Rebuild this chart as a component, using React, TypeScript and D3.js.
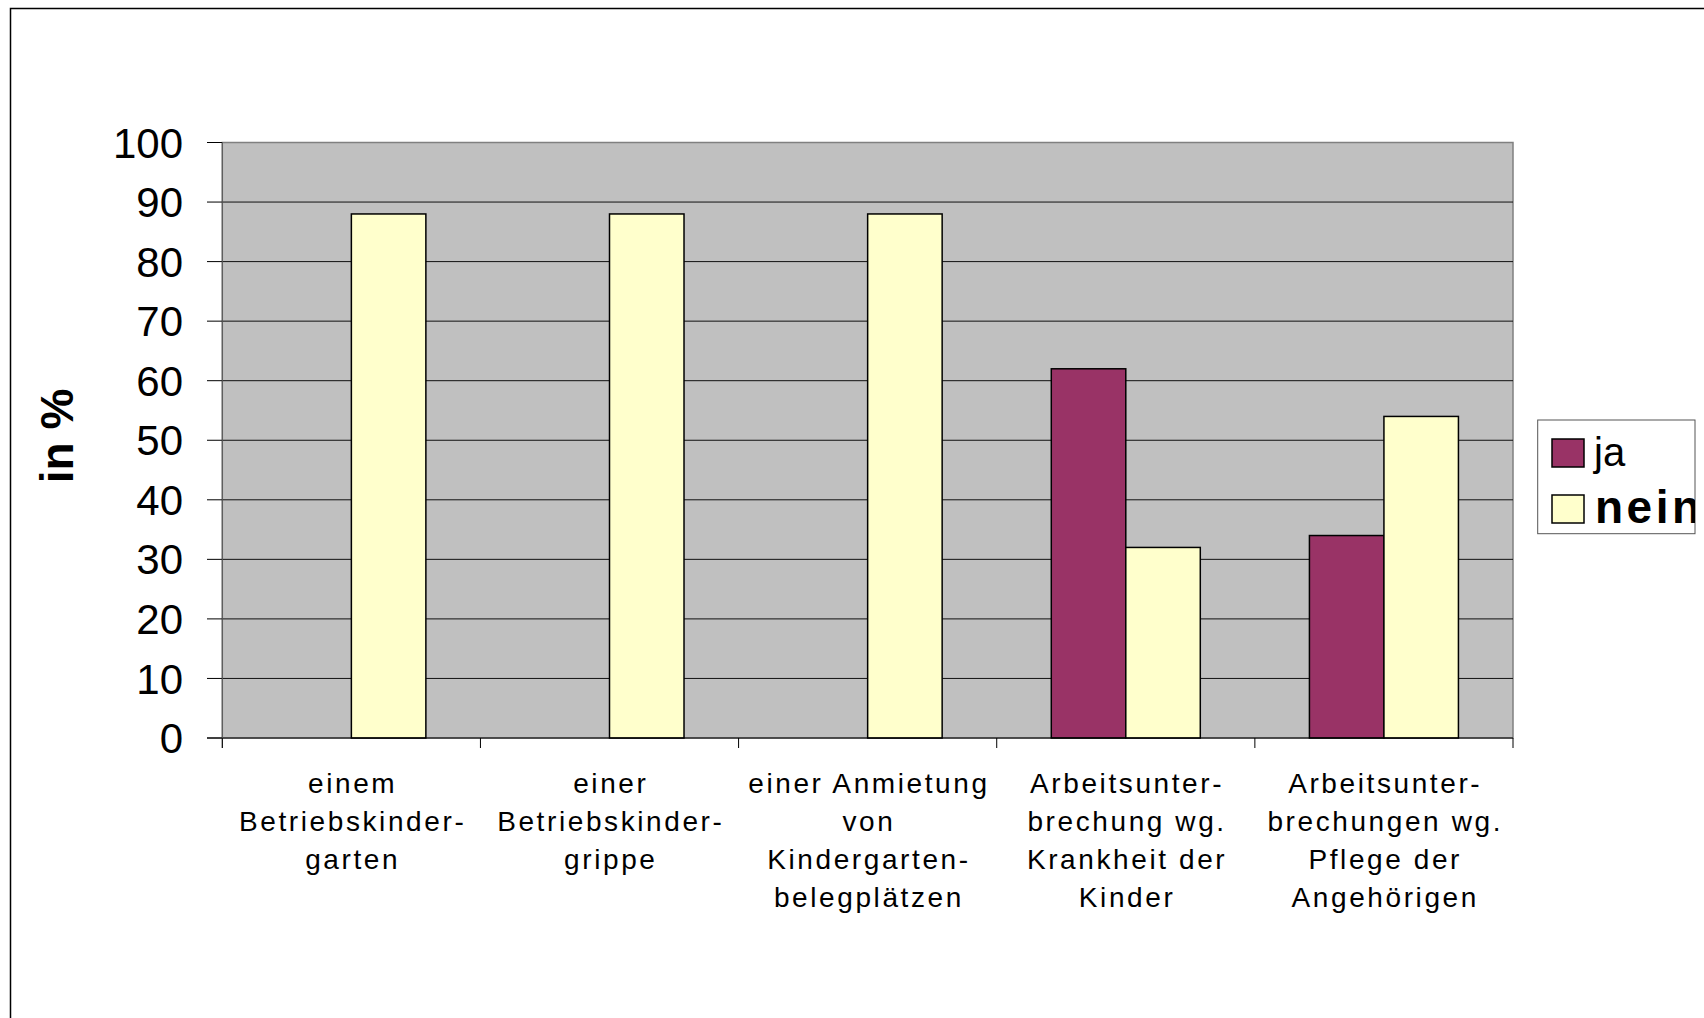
import React from 'react';
import * as d3 from 'd3';

const categories = [
  ['einem', 'Betriebskinder-', 'garten'],
  ['einer', 'Betriebskinder-', 'grippe'],
  ['einer Anmietung', 'von', 'Kindergarten-', 'belegplätzen'],
  ['Arbeitsunter-', 'brechung wg.', 'Krankheit der', 'Kinder'],
  ['Arbeitsunter-', 'brechungen wg.', 'Pflege der', 'Angehörigen'],
];
const jaValues = [0, 0, 0, 62, 34];
const neinValues = [88, 88, 88, 32, 54];
const yTicks = [0, 10, 20, 30, 40, 50, 60, 70, 80, 90, 100];
const seriesNames = ['ja', 'nein'];

const W = 1704;
const H = 1018;
const FONT = '"Liberation Sans", Arial, sans-serif';
const colors = ['#993366', '#FFFFCC'];

export default function App() {
  const left = 222.3;
  const right = 1513;
  const top = 142.5;
  const bottom = 738;

  const x = d3.scaleBand<number>()
    .domain(d3.range(categories.length))
    .range([left, right]);
  const y = d3.scaleLinear().domain([0, 100]).range([bottom, top]);

  const barW = 74.5;
  const series = [jaValues, neinValues];

  return (
    <svg width={W} height={H} style={{ position: 'absolute', left: 0, top: 0, background: '#fff' }}>
      <defs>
        <clipPath id="legendClip">
          <rect x={1537.7} y={420} width={157.3} height={113.7} />
        </clipPath>
      </defs>
      {/* outer frame, runs off the page on the right and bottom */}
      <rect x={10.5} y={8.5} width={1760} height={1100} fill="#fff" stroke="#000" strokeWidth={1.5} />

      {/* plot area */}
      <rect x={left} y={top} width={right - left} height={bottom - top} fill="#C0C0C0" stroke="#808080" strokeWidth={1.5} />

      {/* gridlines and y ticks */}
      {yTicks.map(t => (
        <g key={t}>
          {t > 0 && t < 100 && (
            <line x1={left} x2={right} y1={y(t)} y2={y(t)} stroke="#111" strokeWidth={1} />
          )}
          <line x1={207} x2={left} y1={y(t)} y2={y(t)} stroke="#000" strokeWidth={1} />
          <text x={183} y={y(t)} dy="0.36em" textAnchor="end" fontFamily={FONT} fontSize={42} fill="#000">
            {t}
          </text>
        </g>
      ))}

      {/* bars */}
      {series.map((vals, si) =>
        vals.map((v, i) => {
          if (v <= 0) return null;
          const cx = (x(i) as number) + x.bandwidth() / 2;
          const bx = si === 0 ? cx - barW : cx;
          return (
            <rect key={`${si}-${i}`} x={bx} y={y(v)} width={barW} height={y(0) - y(v)}
              fill={colors[si]} stroke="#000" strokeWidth={1.5} />
          );
        })
      )}

      {/* x axis */}
      <line x1={207} x2={right} y1={y(0)} y2={y(0)} stroke="#000" strokeWidth={1.2} />
      <line x1={left} x2={left} y1={top} y2={y(0) + 10} stroke="#555" strokeWidth={1} />
      {d3.range(categories.length + 1).map(i => {
        const tx = i < categories.length ? (x(i) as number) : right;
        return <line key={i} x1={tx} x2={tx} y1={y(0)} y2={y(0) + 10} stroke="#000" strokeWidth={1} />;
      })}
      {categories.map((lines, i) => {
        const cx = (x(i) as number) + x.bandwidth() / 2;
        return (
          <text key={i} textAnchor="middle" fontFamily={FONT} fontSize={28} letterSpacing={2.6} fill="#000">
            {lines.map((ln, j) => (
              <tspan key={j} x={cx + 1.3} y={793 + j * 38}>{ln}</tspan>
            ))}
          </text>
        );
      })}

      {/* y axis title */}
      <text transform="translate(73,436) rotate(-90)" textAnchor="middle" fontFamily={FONT}
        fontSize={46} fontWeight="bold" fill="#000">in %</text>

      {/* legend */}
      <rect x={1537.7} y={420} width={157.3} height={113.7} fill="#fff" stroke="#555" strokeWidth={1} />
      <g clipPath="url(#legendClip)">
        {seriesNames.map((name, i) => (
          <g key={name}>
            <rect x={1552} y={439 + i * 56} width={32} height={28} fill={colors[i]} stroke="#000" strokeWidth={1.5} />
            <text x={i === 0 ? 1594 : 1595} y={466 + i * 56.5} fontFamily={FONT}
              fontSize={i === 0 ? 40 : 46} fontWeight={i === 0 ? 'normal' : 'bold'}
              letterSpacing={i === 0 ? 0 : 3.5} fill="#000">{name}</text>
          </g>
        ))}
      </g>
    </svg>
  );
}
